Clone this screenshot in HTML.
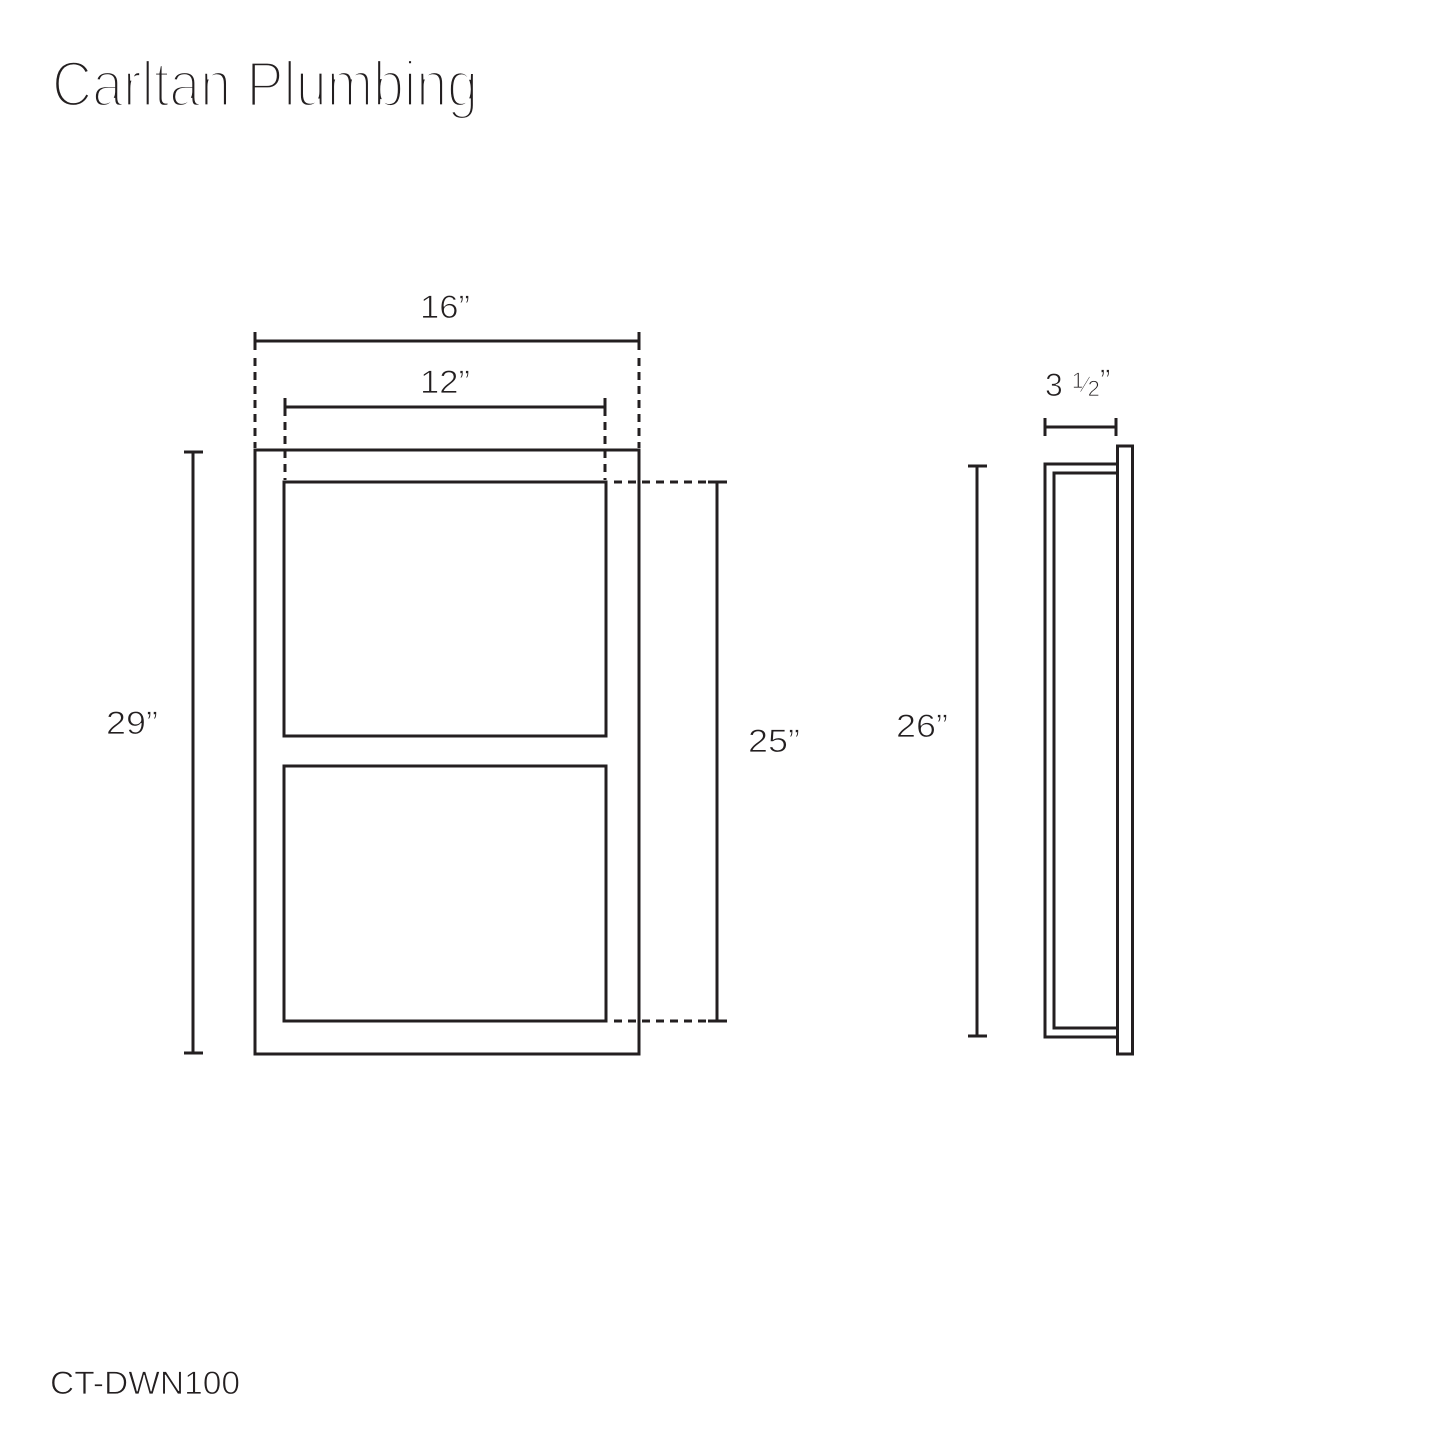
<!DOCTYPE html>
<html><head><meta charset="utf-8"><style>
html,body{margin:0;padding:0;background:#fff;}
svg{display:block}
text{font-family:"Liberation Sans",sans-serif;fill:#231f20;}
</style></head><body>
<svg width="1445" height="1445" viewBox="0 0 1445 1445" xmlns="http://www.w3.org/2000/svg">
<text x="52" y="106" font-size="64" textLength="426" lengthAdjust="spacingAndGlyphs" style="fill:#231f20;stroke:#fff;stroke-width:3.2;font-family:'Liberation Sans',sans-serif">Carltan Plumbing</text>
<g stroke="#231f20" fill="none" stroke-width="3">
<rect x="255" y="450" width="384" height="604"/>
<rect x="284" y="482" width="322" height="254"/>
<rect x="284" y="766" width="322" height="255"/>
<line x1="255" y1="341" x2="639" y2="341"/>
<line x1="255" y1="332" x2="255" y2="350"/><line x1="639" y1="332" x2="639" y2="350"/>
<line x1="255" y1="358" x2="255" y2="448" stroke-dasharray="8,6"/>
<line x1="639" y1="358" x2="639" y2="448" stroke-dasharray="8,6"/>
<line x1="285" y1="407" x2="605" y2="407"/>
<line x1="285" y1="398" x2="285" y2="416"/><line x1="605" y1="398" x2="605" y2="416"/>
<line x1="285" y1="422" x2="285" y2="480" stroke-dasharray="8,6"/>
<line x1="605" y1="422" x2="605" y2="480" stroke-dasharray="8,6"/>
<line x1="193" y1="452" x2="193" y2="1053"/>
<line x1="184" y1="452" x2="203" y2="452"/><line x1="184" y1="1053" x2="203" y2="1053"/>
<line x1="717" y1="482" x2="717" y2="1021"/>
<line x1="708" y1="482" x2="727" y2="482"/><line x1="708" y1="1021" x2="727" y2="1021"/>
<line x1="614" y1="482" x2="706" y2="482" stroke-dasharray="8,6"/>
<line x1="614" y1="1021" x2="706" y2="1021" stroke-dasharray="8,6"/>
<line x1="977" y1="466" x2="977" y2="1036"/>
<line x1="968" y1="466" x2="987" y2="466"/><line x1="968" y1="1036" x2="987" y2="1036"/>
<line x1="1045" y1="427" x2="1116" y2="427"/>
<line x1="1045" y1="418" x2="1045" y2="436"/><line x1="1116" y1="418" x2="1116" y2="436"/>
<rect x="1117.5" y="446" width="15" height="608"/>
<polyline points="1117,464 1045,464 1045,1037 1117,1037"/>
<polyline points="1117,473 1054,473 1054,1028 1117,1028"/>
</g>
<g font-size="32" style="stroke:#fff;stroke-width:0.8">
<text x="420" y="318" textLength="50" lengthAdjust="spacingAndGlyphs">16”</text>
<text x="420" y="393" textLength="50" lengthAdjust="spacingAndGlyphs">12”</text>
<text x="106" y="734" textLength="52" lengthAdjust="spacingAndGlyphs">29”</text>
<text x="748" y="752" textLength="52" lengthAdjust="spacingAndGlyphs">25”</text>
<text x="896" y="737" textLength="52" lengthAdjust="spacingAndGlyphs">26”</text>
<text x="1045" y="396">3 <tspan font-size="22" dy="-8">1</tspan><tspan font-size="22" dy="4">⁄</tspan><tspan font-size="22" dy="4">2</tspan><tspan dy="-4">”</tspan></text>
<text x="50" y="1394" textLength="190" lengthAdjust="spacingAndGlyphs">CT-DWN100</text>
</g>
</svg>
</body></html>
